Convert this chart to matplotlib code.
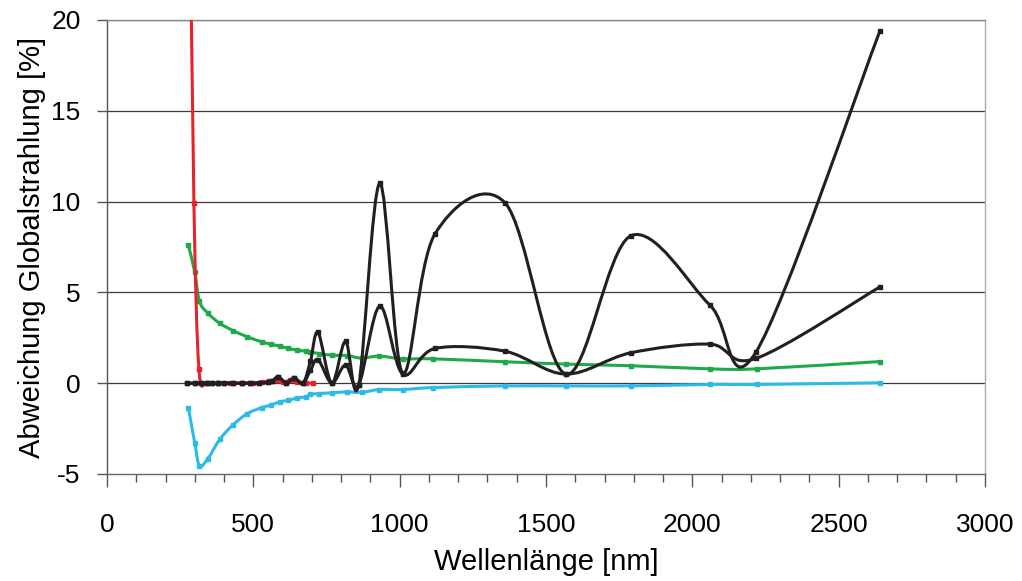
import matplotlib
matplotlib.use("Agg")
import matplotlib.pyplot as plt
from matplotlib.path import Path
from matplotlib.patches import PathPatch
from matplotlib.ticker import MultipleLocator

plt.rcParams['font.family'] = ['Liberation Sans', 'DejaVu Sans']
plt.rcParams['axes.unicode_minus'] = False

# ---- data ----
red_x = [281, 297, 314, 340, 380, 420, 460, 500, 530, 555, 575, 600, 625, 650, 680, 704]
red_y = [30, 9.9, 0.8, 0.0, 0.0, 0.0, 0.0, 0.0, 0.05, 0.1, 0.15, 0.05, 0.15, 0.05, 0.0, 0.0]

gc_x = [278, 300, 316, 345, 385, 430, 480, 530, 560, 590, 620, 650, 680, 695, 725, 770,
        820, 870, 930, 1010, 1115, 1360, 1570, 1790, 2060, 2220, 2640]
green_y = [7.6, 6.1, 4.5, 3.85, 3.3, 2.9, 2.55, 2.27, 2.15, 2.04, 1.92, 1.82, 1.76, 1.72,
           1.63, 1.54, 1.52, 1.38, 1.49, 1.34, 1.34, 1.18, 1.05, 0.96, 0.79, 0.79, 1.19]
cyan_y = [-1.35, -3.3, -4.55, -4.15, -3.1, -2.3, -1.67, -1.34, -1.21, -1.03, -0.94, -0.81,
          -0.75, -0.62, -0.57, -0.53, -0.48, -0.51, -0.35, -0.35, -0.24, -0.15, -0.15, -0.15,
          -0.07, -0.07, 0.02]

blk_x = [275, 300, 320, 340, 360, 380, 400, 430, 460, 490, 520, 550, 565, 585, 612, 640,
         670, 695, 721, 768, 815, 860, 932, 1010, 1120, 1360, 1568, 1789, 2060, 2217, 2641]
blk_hi = [0, 0, 0, 0, 0, 0, 0, 0, 0, 0, 0, 0.05, 0.1, 0.35, 0.02, 0.28,
          0.0, 1.2, 2.8, 0.0, 2.3, -0.1, 11.0, 0.55, 8.2, 9.93, 0.5, 8.11, 4.3, 1.7, 19.4]
blk_lo = [0, 0, 0, 0, 0, 0, 0, 0, 0, 0, 0, 0.05, 0.1, 0.35, 0.02, 0.28,
          0.0, 0.7, 1.3, 0.0, 1.0, -0.1, 4.24, 0.5, 1.91, 1.76, 0.5, 1.67, 2.15, 1.36, 5.3]

x_ticks = [0, 500, 1000, 1500, 2000, 2500, 3000]
y_ticks = [-5, 0, 5, 10, 15, 20]


def smooth_path(xs, ys):
    """Excel-style smoothed line: cubic Bezier segments (Catmull-Rom tangents)."""
    pts = list(zip(xs, ys))
    n = len(pts)
    verts = [pts[0]]
    codes = [Path.MOVETO]
    for i in range(n - 1):
        p0 = pts[i - 1] if i > 0 else pts[i]
        p1 = pts[i]
        p2 = pts[i + 1]
        p3 = pts[i + 2] if i + 2 < n else pts[i + 1]
        c1 = (p1[0] + (p2[0] - p0[0]) / 6.0, p1[1] + (p2[1] - p0[1]) / 6.0)
        c2 = (p2[0] - (p3[0] - p1[0]) / 6.0, p2[1] - (p3[1] - p1[1]) / 6.0)
        verts += [c1, c2, p2]
        codes += [Path.CURVE4] * 3
    return Path(verts, codes)


fig = plt.figure(figsize=(10.22, 5.81), dpi=100)
ax = fig.add_axes([0.1047, 0.1842, 0.8591, 0.7814])

ax.set_xlim(0, 3000)
ax.set_ylim(-5, 20)

for v in y_ticks[1:]:
    ax.axhline(v, color='#3a3a3a', lw=0.9, zorder=1)

series = [
    (gc_x, cyan_y, '#2cbbe6', 2),
    (gc_x, green_y, '#1eaa4b', 3),
    (red_x, red_y, '#e8212b', 4),
    (blk_x, blk_lo, '#231f20', 5),
    (blk_x, blk_hi, '#231f20', 6),
]
for xs, ys, col, z in series:
    patch = PathPatch(smooth_path(xs, ys), facecolor='none', edgecolor=col, lw=2.2,
                      zorder=z, capstyle='round', joinstyle='round')
    ax.add_patch(patch)
    ax.plot(xs, ys, linestyle='none', marker='s', markersize=3.2, color=col, zorder=z)

ax.set_xticks(x_ticks)
ax.set_yticks(y_ticks)
ax.xaxis.set_minor_locator(MultipleLocator(100))
ax.tick_params(axis='x', which='major', direction='out', length=9, width=1, color='#555555',
               labelsize=19, pad=19)
ax.tick_params(axis='x', which='minor', direction='out', length=6, width=1, color='#555555')
ax.tick_params(axis='y', which='major', direction='out', length=7, width=1, color='#555555',
               labelsize=19, pad=12)

ax.spines['left'].set_color('#555555')
ax.spines['bottom'].set_color('#666666')
ax.spines['right'].set_color('#aaaaaa')
ax.spines['top'].set_color('#888888')
for s in ax.spines.values():
    s.set_linewidth(1.0)

ax.set_xlabel('Wellenlänge [nm]', fontsize=21, labelpad=8)
ax.set_ylabel('Abweichung Globalstrahlung [%]', fontsize=21, labelpad=4)

fig.savefig('out.png', dpi=100)
